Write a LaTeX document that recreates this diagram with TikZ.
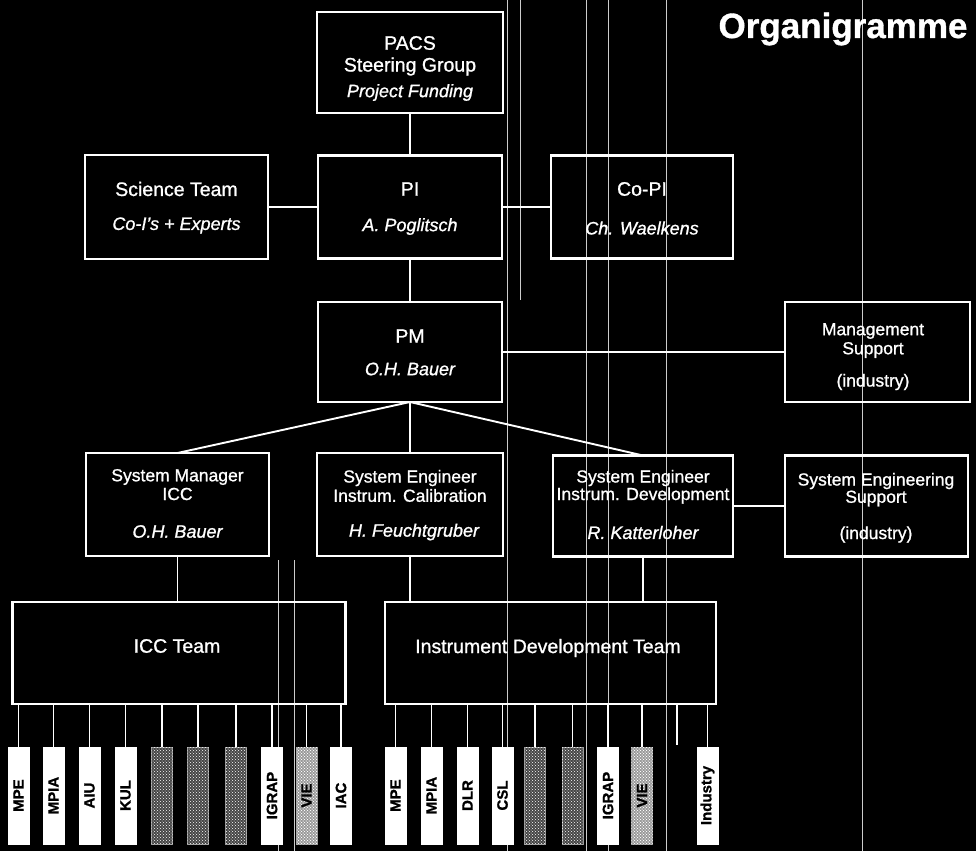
\documentclass[tikz,border=0pt]{standalone}
\usepackage{fontspec}
\setmainfont{Liberation Sans}[FakeBold=1.0]
\usetikzlibrary{patterns}
\begin{document}
\begin{tikzpicture}[x=1pt,y=-1pt,
  box/.style={draw=white, line width=2.2pt, inner sep=0pt, outer sep=0pt},
  link/.style={draw=white, line width=1.9pt},
  thinlink/.style={draw=white, line width=1.1pt},
  ttl/.style={text=white, inner sep=0pt, font=\fontsize{19.5}{21}\selectfont},
  sub/.style={text=white, inner sep=0pt, font=\fontsize{18}{20}\selectfont\itshape},
  sml/.style={text=white, inner sep=0pt, font=\fontsize{17.5}{19}\selectfont},
  org/.style={draw=white, fill=white, line width=0.6pt, inner sep=0pt, outer sep=0pt, minimum width=21pt, minimum height=97pt},
  noisy/.style={draw=gray!80, fill=gray!55!black, line width=0.6pt, inner sep=0pt, outer sep=0pt, minimum width=21pt, minimum height=97pt,
     postaction={pattern=crosshatch dots, pattern color=white}},
  lightnoisy/.style={noisy, fill=gray!80, postaction={pattern=crosshatch dots, pattern color=white}},
  orgtxt/.style={text=black, rotate=90, inner sep=0pt, font=\fontsize{15}{16}\selectfont\bfseries},
  scan/.style={draw=gray!40, line width=0.5pt}
]
\useasboundingbox (0,0) rectangle (976,851);
\fill[black] (0,0) rectangle (976,851);
% scan artefact lines
\foreach \sx/\sa/\sb in {278/560/851, 294/560/851, 507/0/851, 520/0/300, 586/0/851, 608/0/851, 666/0/851, 862/0/851}
  \draw[scan] (\sx,\sa) -- (\sx,\sb);

% title
\node[text=white, inner sep=0pt, font=\fontsize{35}{37}\selectfont\bfseries] (title) at (843,29) {Organigramme};

% boxes
\node[box, minimum width=186pt, minimum height=101pt] (pacs) at (410,62.5) {};
\node[box, minimum width=183pt, minimum height=104pt] (sci) at (176.5,207) {};
\node[box, minimum width=184pt, minimum height=103pt] (pi) at (410,207) {};
\node[box, minimum width=182pt, minimum height=103pt] (copi) at (642,207) {};
\node[box, minimum width=184pt, minimum height=100pt] (pm) at (410,352) {};
\node[box, minimum width=185pt, minimum height=100pt] (ms) at (877.5,352) {};
\node[box, minimum width=183pt, minimum height=103pt] (sm) at (177.5,504.5) {};
\node[box, minimum width=186pt, minimum height=103pt] (secal) at (410,504.5) {};
\node[box, minimum width=180pt, minimum height=101pt] (sedev) at (643,506) {};
\node[box, minimum width=183pt, minimum height=101pt] (ses) at (876.5,506) {};
\node[box, minimum width=333pt, minimum height=102pt] (icc) at (179,653) {};
\node[box, minimum width=331pt, minimum height=102pt] (idt) at (550.5,653) {};

% texts
\node[ttl] (pacs1) at (410,43) {PACS};
\node[ttl] (pacs2) at (410,66.5) {Steering Group};
\node[sub] (pacs3) at (410,92.5) {Project Funding};
\node[ttl] (sci1) at (176.5,189) {Science Team};
\node[sub] (sci2) at (176.5,225.5) {Co-I's + Experts};
\node[ttl] (pi1) at (410,189) {PI};
\node[sub] (pi2) at (410,226.5) {A. Poglitsch};
\node[ttl] (copi1) at (642,189) {Co-PI};
\node[sub] (copi2) at (642,228) {Ch. Waelkens};
\node[ttl] (pm1) at (410,336) {PM};
\node[sub] (pm2) at (410,369) {O.H. Bauer};
\node[sml] (ms1) at (873,331) {Management};
\node[sml] (ms2) at (873,350) {Support};
\node[sml] (ms3) at (873,382) {(industry)};
\node[sml] (sm1) at (177.5,477) {System Manager};
\node[sml] (sm2) at (177.5,494) {ICC};
\node[sub] (sm3) at (177.5,531.5) {O.H. Bauer};
\node[sml] (sc1) at (410,478) {System Engineer};
\node[sml] (sc2) at (410,495.5) {Instrum. Calibration};
\node[sub] (sc3) at (414,532) {H. Feuchtgruber};
\node[sml] (sd1) at (643,478) {System Engineer};
\node[sml] (sd2) at (643,495.5) {Instrum. Development};
\node[sub] (sd3) at (643,532.5) {R. Katterloher};
\node[sml] (se1) at (876,481) {System Engineering};
\node[sml] (se2) at (876,498.5) {Support};
\node[sml] (se3) at (876,534.5) {(industry)};
\node[ttl] (icct) at (177,646) {ICC Team};
\node[ttl] (idtt) at (548,648) {Instrument Development Team};

% connectors
\draw[link] (pacs.south) -- (pi.north);
\draw[link] (sci.east) -- (sci.east -| pi.west);
\draw[link] (pi.east) -- (pi.east -| copi.west);
\draw[link] (pi.south) -- (pm.north);
\draw[link] (pm.east) -- (pm.east -| ms.west);
\draw[link] (pm.south) -- (sm.north);
\draw[link] (pm.south) -- (secal.north);
\draw[link] (pm.south) -- (sedev.north);
\draw[thinlink] (sedev.east) -- (sedev.east -| ses.west);
\draw[link] (sm.south) -- (sm.south |- icc.north);
\draw[link] (secal.south) -- (secal.south |- idt.north);
\draw[link] (sedev.south) -- (sedev.south |- idt.north);

% ICC partner boxes
\node[org] (a1) at (18.5,795.5) {};  \node[orgtxt] (a1t) at (a1) {MPE};
\node[org] (a2) at (53.5,795.5) {};  \node[orgtxt] (a2t) at (a2) {MPIA};
\node[org] (a3) at (89.5,795.5) {};  \node[orgtxt] (a3t) at (a3) {AIU};
\node[org] (a4) at (125.5,795.5) {}; \node[orgtxt] (a4t) at (a4) {KUL};
\node[noisy] (a5) at (162,795.5) {};
\node[noisy] (a6) at (198,795.5) {};
\node[noisy] (a7) at (236,795.5) {};
\node[org] (a8) at (272,795.5) {};   \node[orgtxt] (a8t) at (a8) {IGRAP};
\node[lightnoisy] (a9) at (306.5,795.5) {}; \node[orgtxt] (a9t) at (a9) {VIE};
\node[org] (a10) at (341,795.5) {};  \node[orgtxt] (a10t) at (a10) {IAC};
\foreach \i in {1,...,10}
  \draw[link] (a\i.north |- icc.south) -- (a\i.north);

% IDT partner boxes
\node[org] (b1) at (395.5,795.5) {}; \node[orgtxt] (b1t) at (b1) {MPE};
\node[org] (b2) at (431.5,795.5) {}; \node[orgtxt] (b2t) at (b2) {MPIA};
\node[org] (b3) at (467.5,795.5) {}; \node[orgtxt] (b3t) at (b3) {DLR};
\node[org] (b4) at (502.5,795.5) {}; \node[orgtxt] (b4t) at (b4) {CSL};
\node[noisy] (b5) at (535,795.5) {};
\node[noisy] (b6) at (572.5,795.5) {};
\node[org] (b7) at (608,795.5) {};   \node[orgtxt] (b7t) at (b7) {IGRAP};
\node[lightnoisy] (b8) at (642,795.5) {}; \node[orgtxt] (b8t) at (b8) {VIE};
\coordinate (b9) at (677,745);
\node[org] (b10) at (707.5,795.5) {}; \node[orgtxt] (b10t) at (b10) {Industry};
\foreach \i in {1,...,8,10}
  \draw[link] (b\i.north |- idt.south) -- (b\i.north);
\draw[link] (b9 |- idt.south) -- (b9);
\end{tikzpicture}
\end{document}
